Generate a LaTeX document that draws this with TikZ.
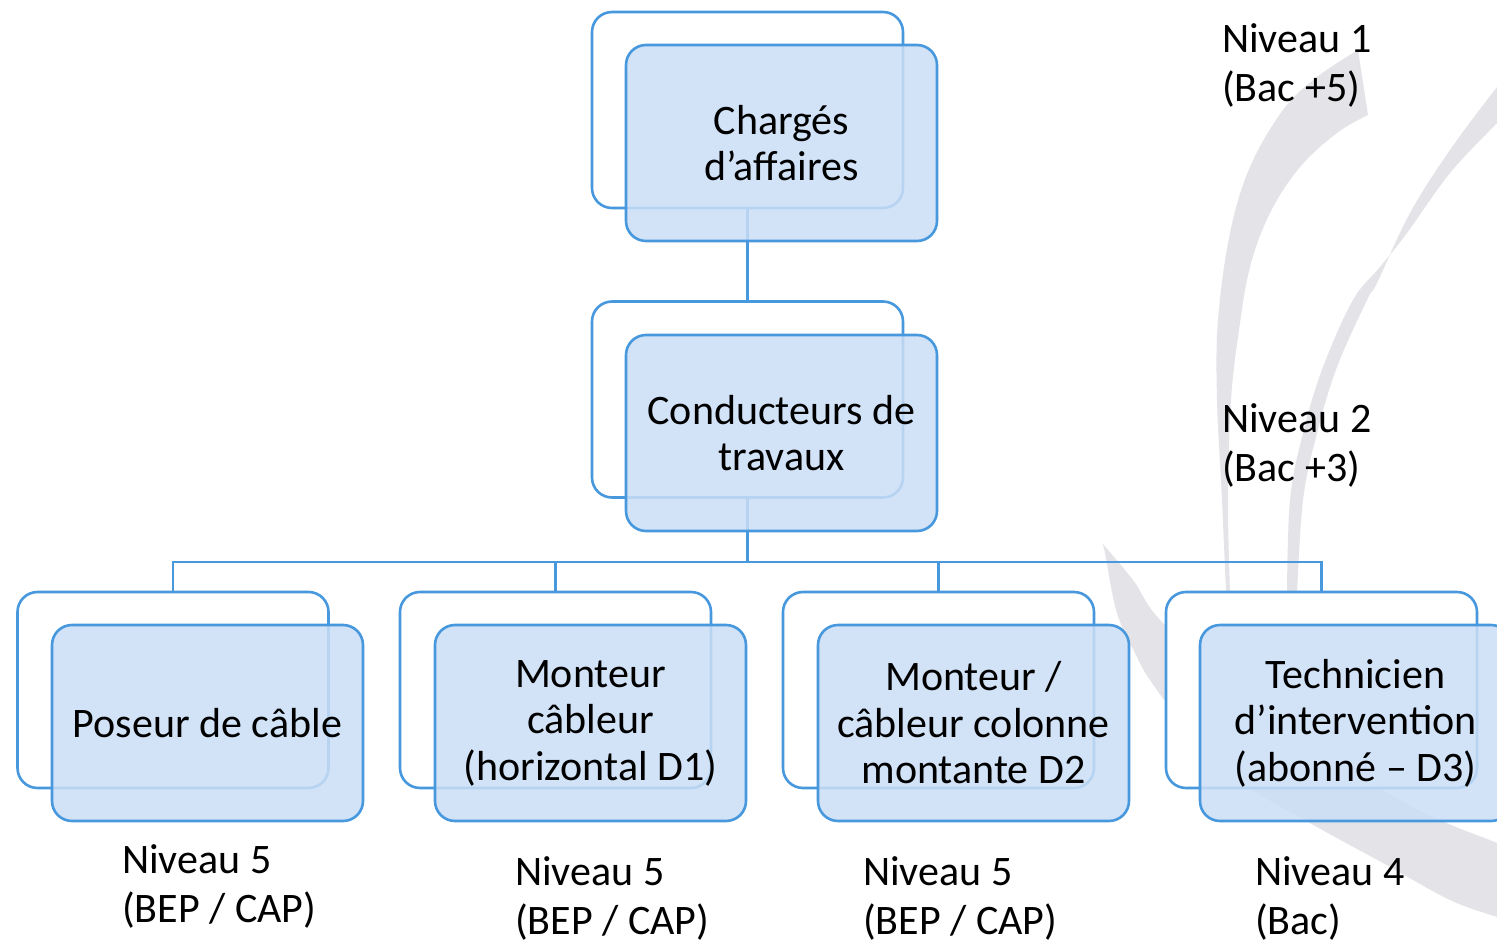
\documentclass[tikz,border=0pt]{standalone}
\usepackage{fontspec}
\setmainfont{Carlito}
\definecolor{bl}{RGB}{72,152,222}
\definecolor{bf}{RGB}{203,222,246}
\definecolor{wm}{RGB}{228,228,232}
\newcommand\lvllab[2]{\vtop{\hbox{#1}\hbox{#2}}}
\tikzset{
  backbox/.style={draw=bl, line width=2.6pt, fill=white, rounded corners=20pt,
    minimum width=311pt, minimum height=196pt, inner sep=0pt},
  frontbox/.style={backbox, fill=bf, fill opacity=0.85, text opacity=1,
    align=center, font=\fontsize{42pt}{46.5pt}\selectfont},
  conn/.style={draw=bl, line width=2.6pt},
  lvl/.style={anchor=base west, inner sep=0pt, font=\fontsize{42pt}{49pt}\selectfont},
  wmark/.style={fill=wm}
}
\begin{document}
\begin{tikzpicture}[x=1pt,y=-1pt]
\useasboundingbox (0,0) rectangle (1497,944);
\clip (0,0) rectangle (1497,944);
\fill[white] (0,0) rectangle (1497,944);
% watermark
\fill[wmark] plot[smooth, tension=0.6] coordinates {(1226,592) (1222,500) (1217,400) (1218,320) (1230,233) (1250,167) (1283,110) (1317,77) (1358,50)}
  -- (1368,115)
  -- plot[smooth, tension=0.6] coordinates {(1368,115) (1337,133) (1300,167) (1270,213) (1250,267) (1239,330) (1231,400) (1228,500) (1230,592)} -- cycle;
\fill[wmark] plot[smooth, tension=0.6] coordinates {(1510,72) (1497,87) (1450,150) (1410,213) (1377,283) (1367,300) (1337,367) (1317,433) (1303,500) (1297,595)}
  -- plot[smooth, tension=0.6] coordinates {(1287,595) (1290,500) (1303,433) (1323,367) (1353,300) (1380,267) (1407,233) (1450,173) (1497,123) (1510,110)} -- cycle;
\fill[wmark] plot[smooth, tension=0.6] coordinates {(1102,543) (1133,580) (1163,623) (1250,700) (1400,800) (1497,843) (1510,848)}
  -- plot[smooth, tension=0.6] coordinates {(1510,922) (1497,917) (1450,900) (1383,863) (1310,823) (1230,775) (1180,720) (1150,680) (1137,657) (1117,613) (1105,553) (1102,543)} -- cycle;
% level labels
\node[lvl] (l1) at (1222,53) {\lvllab{Niveau 1}{(Bac +5)}};
\node[lvl] (l2) at (1222,432) {\lvllab{Niveau 2}{(Bac +3)}};
\node[lvl] (l5a) at (122,873) {\lvllab{Niveau 5}{(BEP / CAP)}};
\node[lvl] (l5b) at (515,885) {\lvllab{Niveau 5}{(BEP / CAP)}};
\node[lvl] (l5c) at (863,885) {\lvllab{Niveau 5}{(BEP / CAP)}};
\node[lvl] (l4) at (1255,885) {\lvllab{Niveau 4}{(Bac)}};
% back boxes
\node[backbox] (n1b) at (747.5,110) {};
\node[backbox] (n2b) at (747.5,399.5) {};
\node[backbox] (c1b) at (173,690) {};
\node[backbox] (c2b) at (555.5,690) {};
\node[backbox] (c3b) at (938.5,690) {};
\node[backbox] (c4b) at (1321.5,690) {};
% connectors
\coordinate (bus) at (747.5,562);
\draw[conn] (n1b.south) -- (n2b.north);
\draw[conn] (n2b.south) -- (bus);
\draw[conn] (c1b.north) |- (bus) -| (c4b.north);
\draw[conn] (c2b.north) |- (bus);
\draw[conn] (c3b.north) |- (bus);
% front boxes
\node[frontbox] (n1) at (781.5,143) {Chargés\\d’affaires};
\node[frontbox] (n2) at (781.5,433) {Conducteurs de\\travaux};
\node[frontbox] (c1) at (207.5,723) {Poseur de câble};
\node[frontbox] (c2) at (590.5,723) {Monteur\\câbleur\\(horizontal D1)};
\node[frontbox] (c3) at (973.5,723) {Monteur /\\câbleur colonne\\montante D2};
\node[frontbox] (c4) at (1355.5,723) {Technicien\\d’intervention\\(abonné – D3)};
\end{tikzpicture}
\end{document}
